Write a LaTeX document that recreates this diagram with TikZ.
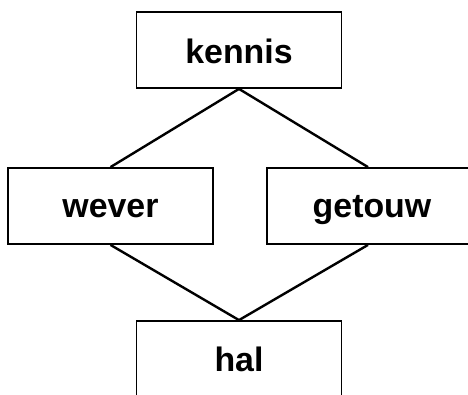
\documentclass[tikz,border=0pt]{standalone}
\usepackage{fontspec}
\setmainfont{Liberation Sans}
\begin{document}
\begin{tikzpicture}[x=1bp,y=-1bp,
  box/.style={draw, line width=1.8bp, minimum width=205bp, minimum height=76bp,
    inner sep=0pt, font=\bfseries\fontsize{34}{40}\selectfont,
    text height=22bp, text depth=0bp},
  link/.style={line width=2.4bp}]
\useasboundingbox (0,0) rectangle (468,394);
\clip (0,0) rectangle (468,394);
% the four boxes
\node[box, text height=26bp] (kennis) at (239,50) {kennis};
\node[box] (wever)  at (110.5,206) {wever};
\node[box, minimum width=210bp] (getouw) at (372,206) {getouw};
\node[box, text height=24bp] (hal) at (239,359) {hal};
% connecting lines
\draw[link] (kennis.south) -- (wever.north);
\draw[link] (kennis.south) -- ([xshift=-4bp]getouw.north);
\draw[link] (wever.south) -- (hal.north);
\draw[link] ([xshift=-4bp]getouw.south) -- (hal.north);
\end{tikzpicture}
\end{document}
